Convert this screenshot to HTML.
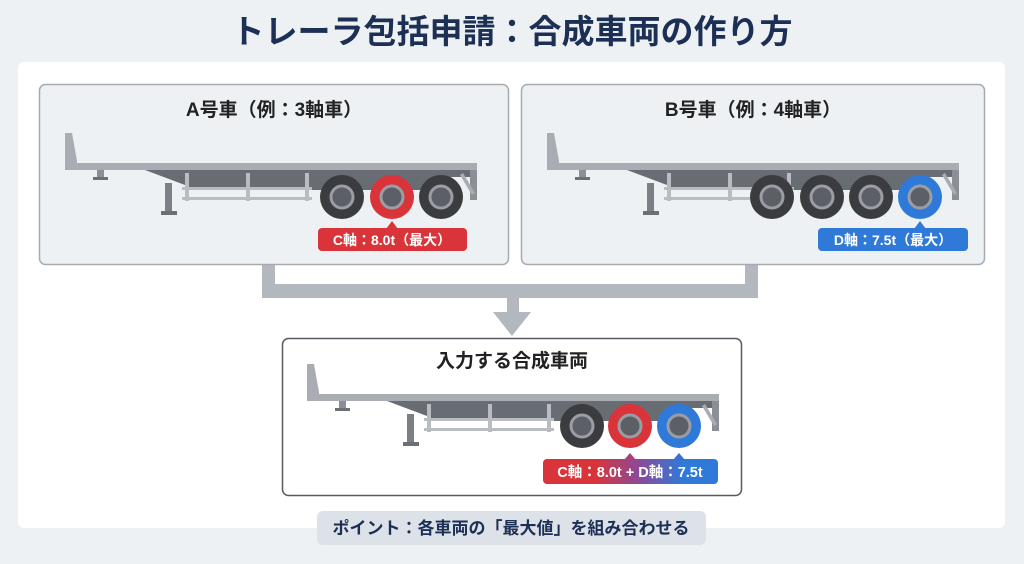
<!DOCTYPE html>
<html><head><meta charset="utf-8"><style>
body{margin:0;width:1024px;height:559px;background:#eef1f4;overflow:hidden;font-family:"Liberation Sans","Noto Sans CJK JP",sans-serif;}
</style></head><body>
<svg width="1024" height="559" viewBox="0 0 1024 559" xmlns="http://www.w3.org/2000/svg" font-family="Liberation Sans, Noto Sans CJK JP, sans-serif">
<defs>
<linearGradient id="mix" x1="0" x2="1"><stop offset="0.3" stop-color="#d9343a"/><stop offset="0.55" stop-color="#8a4a9a"/><stop offset="0.8" stop-color="#2f7ad8"/></linearGradient>
<g id="tr">
 <polygon points="0,0 7,0 12,28 12,37 0,37" fill="#a9adb3"/>
 <rect x="0" y="30" width="412" height="7" fill="#a9adb3"/>
 <rect x="32" y="37" width="7" height="8" fill="#8c9096"/><rect x="28" y="44" width="15" height="3" fill="#6b6f76"/>
 <polygon points="80,37 405,37 405,44 370,44 355,57 120,57 120,52" fill="#686c73"/>
 <rect x="100" y="50" width="7" height="30" fill="#7b7f86"/><rect x="96" y="78" width="16" height="4" fill="#6b6f76"/>
 <rect x="117" y="54" width="130" height="3" fill="#b9bdc3"/><rect x="117" y="64" width="130" height="3" fill="#b9bdc3"/>
 <rect x="120" y="40" width="4" height="28" fill="#b9bdc3"/><rect x="181" y="40" width="4" height="28" fill="#b9bdc3"/><rect x="240" y="40" width="4" height="28" fill="#b9bdc3"/>
 <rect x="405" y="37" width="7" height="30" fill="#8c9096"/>
 <polygon points="395,42 398,40 410,60 407,62" fill="#a9adb3"/>
</g>
</defs>
<text x="512" y="43" text-anchor="middle" font-size="33" font-weight="bold" fill="#1c2f55">トレーラ包括申請：合成車両の作り方</text>
<rect x="18" y="62" width="987" height="466" rx="6" fill="#fff"/>
<g fill="#b3b8bf">
<rect x="262" y="264" width="13" height="34"/><rect x="745" y="264" width="13" height="34"/>
<rect x="262" y="284" width="496" height="14"/><rect x="507" y="298" width="12" height="16"/>
<polygon points="493,312 531,312 512,336"/>
</g>
<rect x="39.5" y="84.5" width="469" height="180" rx="6" fill="#eef1f4" stroke="#a6abb2" stroke-width="1.5"/>
<text x="274" y="116" text-anchor="middle" font-size="19" font-weight="bold" fill="#222">A号車（例：3軸車）</text>
<use href="#tr" x="65" y="133"/>
<g><circle cx="342" cy="197" r="22" fill="#3a3c40"/><circle cx="342" cy="197" r="11" fill="#5c6066" stroke="#9a9ea4" stroke-width="3"/>
<circle cx="392" cy="197" r="22" fill="#d9343a"/><circle cx="392" cy="197" r="11" fill="#5c6066" stroke="#9a9ea4" stroke-width="3"/>
<circle cx="441" cy="197" r="22" fill="#3a3c40"/><circle cx="441" cy="197" r="11" fill="#5c6066" stroke="#9a9ea4" stroke-width="3"/></g>
<rect x="318" y="228" width="149" height="23" rx="4" fill="#d9343a"/><polygon points="386,229 392,221 398,229" fill="#d9343a"/>
<text x="392" y="245" text-anchor="middle" font-size="14" font-weight="bold" fill="#fff">C軸：8.0t（最大）</text>
<rect x="521.5" y="84.5" width="463" height="180" rx="6" fill="#eef1f4" stroke="#a6abb2" stroke-width="1.5"/>
<text x="753" y="116" text-anchor="middle" font-size="19" font-weight="bold" fill="#222">B号車（例：4軸車）</text>
<use href="#tr" x="547" y="133"/>
<g><circle cx="772" cy="197" r="22" fill="#3a3c40"/><circle cx="772" cy="197" r="11" fill="#5c6066" stroke="#9a9ea4" stroke-width="3"/>
<circle cx="822" cy="197" r="22" fill="#3a3c40"/><circle cx="822" cy="197" r="11" fill="#5c6066" stroke="#9a9ea4" stroke-width="3"/>
<circle cx="871" cy="197" r="22" fill="#3a3c40"/><circle cx="871" cy="197" r="11" fill="#5c6066" stroke="#9a9ea4" stroke-width="3"/>
<circle cx="920" cy="197" r="22" fill="#2f7ad8"/><circle cx="920" cy="197" r="11" fill="#5c6066" stroke="#9a9ea4" stroke-width="3"/></g>
<rect x="818" y="228" width="150" height="23" rx="4" fill="#2f7ad8"/><polygon points="914,229 920,221 926,229" fill="#2f7ad8"/>
<text x="893" y="245" text-anchor="middle" font-size="14" font-weight="bold" fill="#fff">D軸：7.5t（最大）</text>
<rect x="282.5" y="338.5" width="459" height="157" rx="6" fill="#fff" stroke="#555a61" stroke-width="1.5"/>
<text x="512" y="367" text-anchor="middle" font-size="19" font-weight="bold" fill="#222">入力する合成車両</text>
<use href="#tr" x="307" y="364"/>
<g><circle cx="582" cy="426" r="22" fill="#3a3c40"/><circle cx="582" cy="426" r="11" fill="#5c6066" stroke="#9a9ea4" stroke-width="3"/>
<circle cx="630" cy="426" r="22" fill="#d9343a"/><circle cx="630" cy="426" r="11" fill="#5c6066" stroke="#9a9ea4" stroke-width="3"/>
<circle cx="679" cy="426" r="22" fill="#2f7ad8"/><circle cx="679" cy="426" r="11" fill="#5c6066" stroke="#9a9ea4" stroke-width="3"/></g>
<rect x="543" y="459" width="175" height="25" rx="4" fill="url(#mix)"/>
<polygon points="624,460 630,453 636,460" fill="#a64080"/><polygon points="673,460 679,453 685,460" fill="#3d70cc"/>
<text x="630" y="477" text-anchor="middle" font-size="14.5" font-weight="bold" fill="#fff">C軸：8.0t + D軸：7.5t</text>
<rect x="317" y="511" width="389" height="34" rx="6" fill="#dde2e8"/>
<text x="511" y="534" text-anchor="middle" font-size="17" font-weight="bold" fill="#1c2f55">ポイント：各車両の「最大値」を組み合わせる</text>
</svg>
</body></html>
